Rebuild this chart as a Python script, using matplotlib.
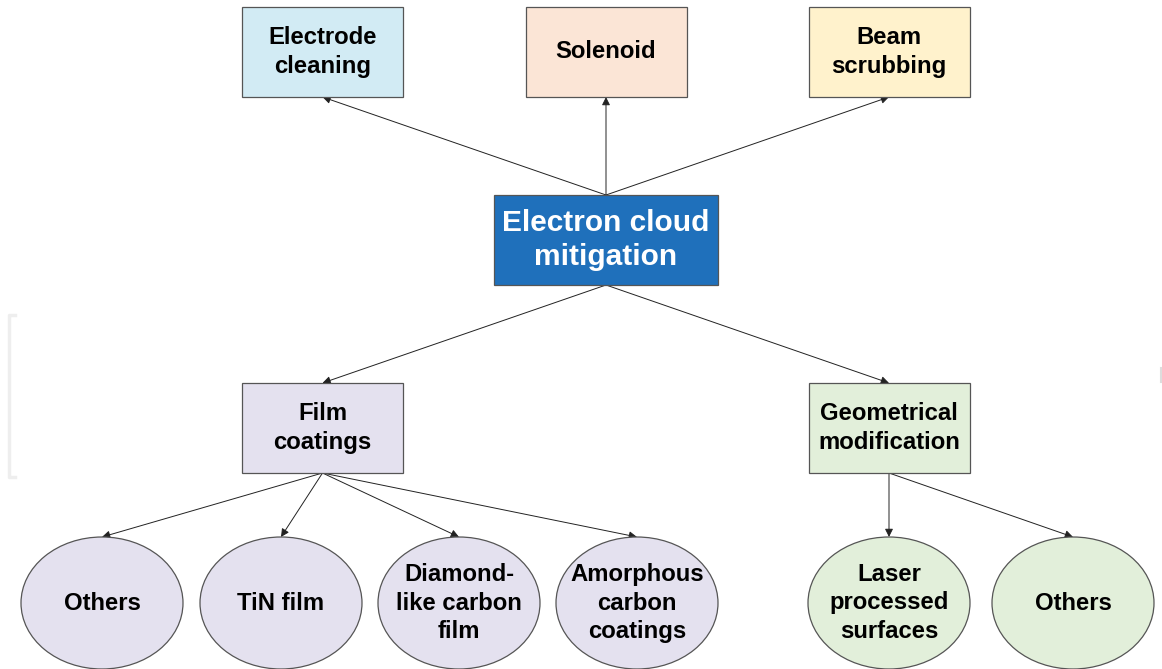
import matplotlib
matplotlib.use("Agg")
import matplotlib.pyplot as plt
from matplotlib.patches import Rectangle, Ellipse, FancyArrowPatch

plt.rcParams['font.family'] = ['Liberation Sans', 'DejaVu Sans']

# ---- content ----
top_labels = ["Electrode\ncleaning", "Solenoid", "Beam\nscrubbing"]
top_colors = ["#d2ebf4", "#fbe5d6", "#fff2cc"]
center_label = "Electron cloud\nmitigation"
mid_labels = ["Film\ncoatings", "Geometrical\nmodification"]
mid_colors = ["#e4e1ef", "#e2efda"]
film_children = ["Others", "TiN film", "Diamond-\nlike carbon\nfilm", "Amorphous\ncarbon\ncoatings"]
geom_children = ["Laser\nprocessed\nsurfaces", "Others"]

# ---- layout (pixel space) ----
W, H = 1162, 669
box_w, box_h = 161, 90
top_x = [322.5, 606, 889]
top_y = 52
center_xy = (606, 240)
center_w, center_h = 224, 90
mid_x = [322.5, 889]
mid_y = 428
ell_y = 603
ell_w, ell_h = 162, 132
film_ell_x = [102, 281, 459, 637]
geom_ell_x = [889, 1073]

fig = plt.figure(figsize=(W / 100, H / 100), dpi=100)
ax = fig.add_axes([0, 0, 1, 1])
ax.set_xlim(0, W)
ax.set_ylim(H, 0)
ax.axis('off')

edge = "#555555"
fs = 17.2

def box(cx, cy, w, h, fc, text, color="black", size=fs, ls=1.33):
    ax.add_patch(Rectangle((cx - w / 2, cy - h / 2), w, h, facecolor=fc,
                           edgecolor=edge, lw=0.9, zorder=2))
    ax.text(cx, cy, text, ha='center', va='center', fontsize=size,
            fontweight='bold', color=color, linespacing=ls, zorder=3)

def ell(cx, cy, fc, text):
    ax.add_patch(Ellipse((cx, cy), ell_w, ell_h, facecolor=fc,
                         edgecolor=edge, lw=0.9, zorder=2))
    ax.text(cx, cy, text, ha='center', va='center', fontsize=fs,
            fontweight='bold', color='black', linespacing=1.33, zorder=3)

def arrow(p0, p1):
    ax.add_patch(FancyArrowPatch(p0, p1, arrowstyle='-|>', mutation_scale=12,
                                 lw=0.7, color='#222222', shrinkA=0, shrinkB=0,
                                 zorder=1))

# faint decorations
ax.plot([15, 9, 9, 15], [315, 315, 477, 477], color='#eeeeee', lw=2.5, zorder=0)
ax.plot([1161, 1161], [368, 382], color='#dddddd', lw=1.5, zorder=0)

# top boxes
for x, lab, c in zip(top_x, top_labels, top_colors):
    box(x, top_y, box_w, box_h, c, lab)
    arrow((center_xy[0], center_xy[1] - center_h / 2), (x, top_y + box_h / 2))

# center
box(center_xy[0], center_xy[1], center_w, center_h, "#1f70bb", center_label,
    color='white', size=21.5, ls=1.3)

# middle
for x, lab, c in zip(mid_x, mid_labels, mid_colors):
    box(x, mid_y, box_w, box_h, c, lab)
    arrow((center_xy[0], center_xy[1] + center_h / 2), (x, mid_y - box_h / 2))

# ellipses
for x, lab in zip(film_ell_x, film_children):
    ell(x, ell_y, mid_colors[0], lab)
    arrow((mid_x[0], mid_y + box_h / 2), (x, ell_y - ell_h / 2))
for x, lab in zip(geom_ell_x, geom_children):
    ell(x, ell_y, mid_colors[1], lab)
    arrow((mid_x[1], mid_y + box_h / 2), (x, ell_y - ell_h / 2))

fig.savefig("out.png", dpi=100)
